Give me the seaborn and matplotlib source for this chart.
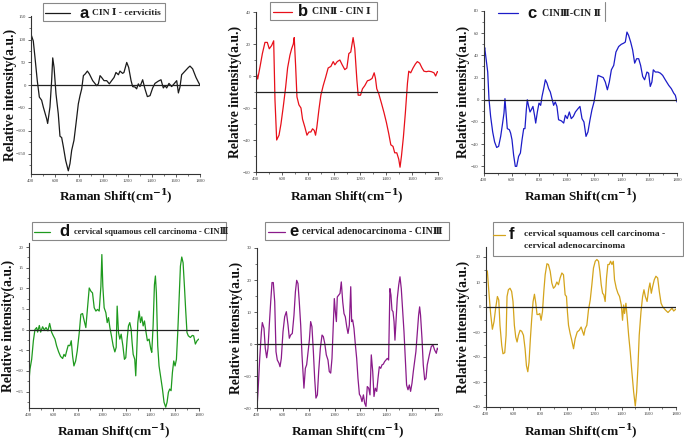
import matplotlib
matplotlib.use("Agg")
import matplotlib.pyplot as plt
import matplotlib.patches as mpatches
from matplotlib.lines import Line2D
from matplotlib.ticker import MultipleLocator, AutoMinorLocator
import seaborn as sns
import pandas as pd

# ---------------- data ----------------
xa = [400, 419, 433, 452, 469, 488, 502, 530, 538, 557, 571, 580, 591, 607, 626, 640, 654, 668, 687, 709,
      723, 737, 756, 773, 792, 806, 820, 834, 850, 867, 883, 911, 944, 958, 972, 985, 1005, 1027, 1049, 1068,
      1088, 1104, 1124, 1137, 1159, 1170, 1193, 1209, 1229, 1242, 1262, 1275, 1289, 1303, 1325, 1344, 1364,
      1386, 1408, 1427, 1455, 1477, 1496, 1510, 1524, 1543, 1565, 1585, 1607, 1621, 1634, 1648, 1676, 1704,
      1717, 1739, 1767, 1786, 1800]
ya = [112, 97, 61, 10, -26, -33, -48, -74, -84, -48, 10, 60, 39, -19, -63, -112, -115, -135, -165, -188,
      -172, -143, -121, -84, -41, -23, -8, 21, 25, 31, 25, 10, -1, 3, 21, 17, 10, 10, 3, 10,
      17, 28, 23, 31, 26, 28, 50, 39, 10, -3, -4, -8, 3, -3, 12, -8, -25,
      -23, -6, 4, 9, 12, -6, -1, -6, 4, -3, 3, 10, -17, -4, 23, 31, 39,
      42, 36, 17, 7, 0]

xb = [400, 413, 431, 449, 469, 487, 502, 520, 536, 546, 559, 577, 592, 610, 628, 643, 661, 674, 687, 694,
      705, 715, 730, 746, 758, 776, 792, 807, 822, 835, 848, 858, 868, 884, 899, 917, 935, 955, 976, 994,
      1007, 1025, 1045, 1063, 1083, 1099, 1114, 1129, 1147, 1160, 1176, 1186, 1204, 1219, 1237, 1257, 1275,
      1293, 1309, 1319, 1329, 1344, 1365, 1385, 1403, 1421, 1437, 1454, 1467, 1483, 1498, 1508, 1519, 1534,
      1549, 1565, 1575, 1590, 1608, 1626, 1641, 1659, 1677, 1692, 1710, 1728, 1749, 1769, 1782, 1795, 1800]
yb = [2.7, -1.9, 5.8, 14, 21, 21, 17, 19, 22, -15, -40, -37, -30, -19, -7, 5, 13, 17, 20, 24,
      6, -13, -18, -20, -27, -32, -37, -35, -35, -33, -34, -37, -32, -21, -12, -6, -1, 5, 6, 9,
      7, 9, 10, 7, 4, 5, 14, 15, 24, 17, -2.5, -12, -12, -8, -6, -3, -2.5,
      -1.5, 2, -1.5, -8, -11, -17, -23, -29, -36, -43, -44, -48, -48, -52, -57, -50, -38,
      -23, -4.5, 3, 2, 5, 7.5, 9, 8, 5, 3, 2.7, 3, 2.7, 2, 0, 2.7, 2.7]

xc = [400, 405, 415, 427, 436, 448, 463, 477, 492, 506, 521, 535, 545, 552, 560, 569, 584, 593, 603, 615,
      627, 637, 651, 664, 676, 688, 697, 707, 714, 724, 734, 743, 755, 768, 775, 787, 799, 811, 821, 833,
      845, 857, 869, 881, 893, 905, 917, 929, 941, 961, 978, 990, 1004, 1019, 1033, 1048, 1063, 1082, 1096,
      1111, 1125, 1140, 1154, 1169, 1183, 1198, 1212, 1227, 1246, 1265, 1280, 1295, 1309, 1324, 1341, 1357,
      1377, 1396, 1413, 1425, 1437, 1449, 1464, 1478, 1493, 1507, 1522, 1536, 1551, 1565, 1582, 1594, 1606,
      1618, 1628, 1643, 1662, 1679, 1696, 1715, 1740, 1759, 1776, 1788, 1800]
yc = [43, 47, 37, 25, 1, -15, -29, -38, -43, -42, -33, -21, -12, 1, -12, -26, -27, -30, -36, -50,
      -60, -60, -51, -48, -36, -26, -26, -9, 0, -6, -11, -9, -6, -15, -21, -11, -3, -5, 3, 10,
      18, 15, 10, 7, 1, -5, -2, -6, -18, -19, -21, -14, -17, -11, -17, -15, -11, -8, -6,
      -17, -20, -33, -29, -18, -9, -2, 9, 22, 21, 20, 16, 9, 16, 27, 31, 43,
      48, 50, 51, 52, 61, 58, 52, 45, 33, 37, 37, 31, 21, 18, 25, 24, 12,
      16, 27, 25, 25, 24, 22, 18, 13, 10, 6, 4, -2]

xd = [400, 408, 422, 436, 449, 463, 471, 485, 496, 512, 526, 540, 556, 570, 586, 600, 614, 627, 644, 660,
      677, 688, 699, 710, 723, 737, 748, 759, 770, 784, 797, 814, 827, 841, 855, 868, 882, 896, 910, 923,
      937, 951, 964, 978, 992, 1000, 1008, 1019, 1033, 1044, 1055, 1066, 1079, 1093, 1107, 1118, 1126, 1137,
      1148, 1159, 1173, 1186, 1197, 1208, 1219, 1230, 1241, 1249, 1258, 1271, 1279, 1288, 1296, 1307, 1318,
      1329, 1340, 1351, 1362, 1375, 1389, 1403, 1411, 1422, 1433, 1441, 1449, 1460, 1471, 1485, 1499, 1512,
      1526, 1537, 1548, 1559, 1570, 1581, 1592, 1603, 1614, 1625, 1636, 1647, 1658, 1669, 1680, 1690, 1701,
      1712, 1729, 1745, 1756, 1770, 1784, 1797]
yd = [-12.4, -9.6, -7.2, -2.7, 0, 0.5, -0.6, 1, -0.6, 0.7, -0.1, 0.5, -0.3, 1.5, -0.6, -1.5, -2.3, -3.9, -5.4, -6.5,
      -7, -6, -6.5, -5.2, -3.8, -3.9, -2.7, -6.4, -8.8, -7.6, -5.2, -0.7, 3.7, 3.9, 2.1, 0.5, 5.3, 10.1, 9.3, 8.9,
      5.3, 4.5, 4.9, 4.5, 10.5, 18.2, 10.5, 5.3, 4.1, 1.7, 2.9, 0.5, -1.5, -3.9, -5.4, -4.3, 5.7, -0.7,
      -2.3, -1.1, -3.9, -7.2, -6.8, -2.3, 0.9, 1.7, 0.1, -3.1, -6, -7.2, -11.2, -4.7, 1.7, 4.5, 1.7,
      3.1, 0.9, 2.1, -0.3, -2.7, -2.3, -4.7, -5.5, 0.9, 10.9, 13, 8.9, -3.9, -8.8, -11.6, -14.4, -17.6,
      -18.8, -17.6, -15.2, -14.4, -14.8, -10.4, -7.6, -8.8, -7.2, -0.7, 7.3, 15.4, 17.6, 16.2, 10.5, 4.9, -0.7,
      -1.5, -1.9, -1.4, -1.5, -3.5, -2.7, -2.3]

xe = [400, 408, 421, 434, 441, 454, 464, 475, 485, 495, 506, 516, 526, 537, 547, 557, 570, 578, 588, 601,
      614, 627, 640, 650, 660, 673, 686, 697, 707, 717, 727, 738, 748, 758, 763, 774, 784, 794, 805, 815,
      825, 836, 846, 856, 867, 877, 890, 903, 913, 924, 936, 949, 959, 970, 980, 990, 998, 1006, 1014, 1021,
      1032, 1042, 1052, 1063, 1073, 1083, 1094, 1104, 1114, 1125, 1132, 1140, 1150, 1161, 1171, 1181, 1192,
      1202, 1212, 1223, 1233, 1243, 1253, 1264, 1274, 1284, 1295, 1305, 1315, 1326, 1336, 1346, 1357, 1367,
      1377, 1387, 1397, 1408, 1418, 1428, 1436, 1444, 1452, 1460, 1467, 1475, 1485, 1496, 1506, 1516, 1527,
      1537, 1547, 1557, 1568, 1578, 1588, 1599, 1609, 1619, 1629, 1640, 1650, 1658, 1665, 1676, 1686, 1697,
      1707, 1717, 1733, 1748, 1761, 1774, 1787, 1795, 1800]
ye = [-20, -14.8, -4.5, 3.8, 6.7, 4.9, -1.3, -4.3, -1.3, 5.9, 13.2, 19.2, 19.2, 13.2, -2.4, -5, -6, -7.1, -4.5, 3.8,
      8.5, 10.1, 5.9, 1.8, 2.8, 3.3, 9, 16.3, 19.9, 18.9, 13.2, 5.9, -3.4, -10.7, -13.8, -7.6, -6.5, -2.9, 1.2, 7,
      5.4, -2.4, -10.7, -16.9, -15.9, -8.6, -1.3, 2.8, 2.3, 0.2, -3.4, -5, -8.6, -9.1, -4.5, 5.9, 14.2, 10.1, 7, 14.7,
      15.3, 15.8, 19.4, 13.2, 9.5, 8.5, 5.4, 3.3, 5.9, 17.9, 7, 7.5, 4.9, -0.3, -4.5, -10.7, -15.7,
      -16.4, -18, -15.9, -18.5, -19.5, -13.3, -13.8, -15.9, -3.4, -8.6, -16.4, -13.8, -14.8, -10.7, -7.1, -7.6, -6.5,
      -6.3, -5.5, -5, -4.5, -5, 17.3, 15.3, 10.6, 10.1, 7, 1.2, 7, 14.2, 18.4, 21, 17.3, 10.1,
      3.8, -4.5, -12.8, -14.3, -12.8, -14.8, -12.2, -8.6, -5.5, -2.4, 3.8, 9, 11.6, 9, 1.8, -6.5, -11.2,
      -10.7, -6.5, -3.4, -0.8, -0.3, -1.9, -2.9, -1.3, -1.6]

xf = [400, 410, 422, 434, 447, 459, 471, 484, 494, 503, 516, 525, 538, 548, 555, 565, 577, 589, 599, 609,
      619, 629, 639, 651, 663, 676, 688, 698, 708, 717, 727, 737, 747, 757, 767, 776, 786, 796, 806, 816,
      826, 836, 849, 860, 873, 885, 897, 909, 922, 934, 946, 959, 971, 983, 993, 1000, 1008, 1020, 1032,
      1045, 1057, 1072, 1087, 1101, 1111, 1121, 1131, 1143, 1155, 1168, 1180, 1192, 1205, 1217, 1229, 1239,
      1249, 1259, 1268, 1278, 1288, 1298, 1308, 1318, 1328, 1338, 1347, 1360, 1372, 1384, 1397, 1406, 1414,
      1421, 1431, 1441, 1451, 1463, 1475, 1488, 1500, 1510, 1520, 1529, 1542, 1554, 1564, 1574, 1587, 1598,
      1608, 1618, 1628, 1640, 1652, 1665, 1677, 1690, 1702, 1722, 1741, 1758, 1771, 1783, 1800]
yf = [15, 14.3, 5.5, -2.6, -8.9, -5.9, -0.5, 4.2, 2.8, -7.3, -15.4, -18.7, -18.3, -11.3, 4.2, 6.9, 7.5, 6.2, 2.2, -7.3,
      -12, -14, -11.3, -9.3, -9.7, -11.3, -16.7, -23.5, -25.9, -22.1, -12.7, -4.6, 2.2, 5.1, 1.5, -3, -3, -2.6, -5.3, -1.9,
      6.2, 12.9, 17.3, 17, 14.3, 9.6, 7.5, 8.2, 10, 8.9, 11.6, 13.6, 12.9, 4.9, 4.2, -1.9, -7.3, -10.6, -13.3,
      -16.7, -12.7, -10, -9.3, -8, -9.7, -11.3, -8.6, -7.3, -1.2, 2.8, 8.9, 15.6, 18.3, 19, 18.3, 14.3,
      8.9, 5.5, 4.9, 2.2, 11.6, 17, 17, 18.3, 17, 18.3, 10.9, 7.5, 5.5, 4.2, 0.8, -5.3, 0.8,
      -2.6, 1.5, -4.6, -11.3, -18, -26, -34, -39.6, -34, -23.5, -11.3, -1.9, 4.2, 6.9, 4.2, 2.2, 6.9,
      9.6, 5.5, 8.2, 10.9, 12.3, 11.6, 6.2, 1.5, 0.1, -1.2, -2.2, -1.2, -0.5, -1.6, -0.8]

letters = ["a", "b", "c", "d", "e", "f"]
titles = ["CIN \u2160 - cervicitis",
          "CIN\u2161 - CIN \u2160",
          "CIN\u2162-CIN \u2161",
          "cervical squamous cell carcinoma - CIN\u2162",
          "cervical adenocarcinoma - CIN\u2162",
          "cervical squamous cell carcinoma -\ncervical adenocarcinoma"]
colors = ["#1a1a1a", "#e8101a", "#1c1cc8", "#1e9a1e", "#8a1a8a", "#d4a41c"]
ylims = [(-195, 152), (-60, 40), (-66, 80), (-19, 21), (-20, 30), (-40, 24)]
ymajor = [50, 20, 20, 5, 10, 10]
hlines = [0, -10, 0, 0, 0, 0]
series = [(xa, ya), (xb, yb), (xc, yc), (xd, yd), (xe, ye), (xf, yf)]

# ---------------- layout (pixels) ----------------
W, H = 684, 445
sns.set_theme(style="white")
plt.rcParams["mathtext.fontset"] = "dejavuserif"
serif = ["Liberation Serif", "DejaVu Serif"]
fig = plt.figure(figsize=(W / 100, H / 100), dpi=100)

# left, right, top, bottom in pixels
boxes = [(31, 200, 16, 174), (256, 438, 12, 172), (484, 677, 11, 173),
         (29, 199, 243, 408), (257, 438, 248, 408), (486, 676, 247, 407)]
ylab_x = [10, 235, 463, 8, 236, 463]
xlab_y = [197, 197, 197, 432, 432, 432]

def fx(p):
    return p / W

def fy(p):
    return 1 - p / H

for i, (l, r, t, b) in enumerate(boxes):
    ax = fig.add_axes([fx(l), fy(b), fx(r - l), (b - t) / H])
    x, y = series[i]
    df = pd.DataFrame({"x": x, "y": y})
    sns.lineplot(data=df, x="x", y="y", ax=ax, color=colors[i], lw=0.9, sort=False)
    ax.axhline(hlines[i], color="#222222", lw=0.9)
    ax.set_xlim(400, 1800)
    ax.set_ylim(*ylims[i])
    ax.xaxis.set_major_locator(MultipleLocator(200))
    ax.xaxis.set_minor_locator(MultipleLocator(100))
    ax.yaxis.set_major_locator(MultipleLocator(ymajor[i]))
    ax.yaxis.set_minor_locator(AutoMinorLocator(2))
    sns.despine(ax=ax)
    for s in ("left", "bottom"):
        ax.spines[s].set_color("#333333")
        ax.spines[s].set_linewidth(0.8)
    ax.tick_params(which="both", direction="out", bottom=True, left=True, colors="#444444",
                   labelsize=3.5, pad=1.2)
    ax.tick_params(which="major", length=2.5, width=0.6)
    ax.tick_params(which="minor", length=1.5, width=0.5)
    for lab in ax.get_xticklabels() + ax.get_yticklabels():
        lab.set_family(serif)
    ax.set_xlabel("")
    ax.set_ylabel("")
    ax.patch.set_alpha(0)
    fig.text(fx(ylab_x[i]), fy((t + b) / 2), "Relative intensity(a.u.)", rotation=90,
             ha="center", va="center", fontsize=9.8, fontweight="bold", family=serif, color="#111111")
    fig.text(fx((l + r) / 2), fy(xlab_y[i]), r"Raman Shift(cm$^{\mathbf{-1}}$)",
             ha="center", va="center", fontsize=9.5, fontweight="bold", family=serif, color="#111111")

# ---------------- legends (pixels) ----------------
# box (l, t, r, b), line (x0, x1, y), letter x, text x, text y
legs = [((43, 3, 165, 21), (45, 70, 13), 79, 92, 13),
        ((270, 2, 377, 20), (273, 292, 12), 298, 312, 12),
        (None, (498, 518, 13), 527, 542, 13),
        ((32, 222, 226, 240), (34, 50, 232), 59, 74, 232),
        ((265, 222, 449, 240), (268, 285, 232), 289, 302, 232),
        ((493, 222, 683, 256), (493, 505, 235), 509, 524, 240)]
tsize = [6.8, 7, 7, 6.2, 7, 6.8]
for i, (bx, ln, lx, tx, ty) in enumerate(legs):
    if bx is not None:
        l, t, r, b = bx
        fig.add_artist(mpatches.Rectangle((fx(l), fy(b)), fx(r - l), (b - t) / H,
                                          transform=fig.transFigure, fill=True, facecolor="white",
                                          edgecolor="#888888", lw=0.8, zorder=5))
    else:
        fig.add_artist(Line2D([fx(605), fx(605)], [fy(2), fy(21)], transform=fig.transFigure,
                              color="#888888", lw=0.8))
    fig.add_artist(Line2D([fx(ln[0]), fx(ln[1])], [fy(ln[2]), fy(ln[2])], transform=fig.transFigure,
                          color=colors[i], lw=0.9, zorder=6))
    ly = ln[2]
    fig.text(fx(lx), fy(ly), letters[i], ha="left", va="center", fontsize=12, fontweight="bold",
             family=["Liberation Sans", "DejaVu Sans"], color="#111111", zorder=6)
    fig.text(fx(tx), fy(ty), titles[i], ha="left", va="center", fontsize=tsize[i], fontweight="bold",
             family=serif, color="#222222", zorder=6, linespacing=1.6)

fig.savefig("out.png", dpi=100)
